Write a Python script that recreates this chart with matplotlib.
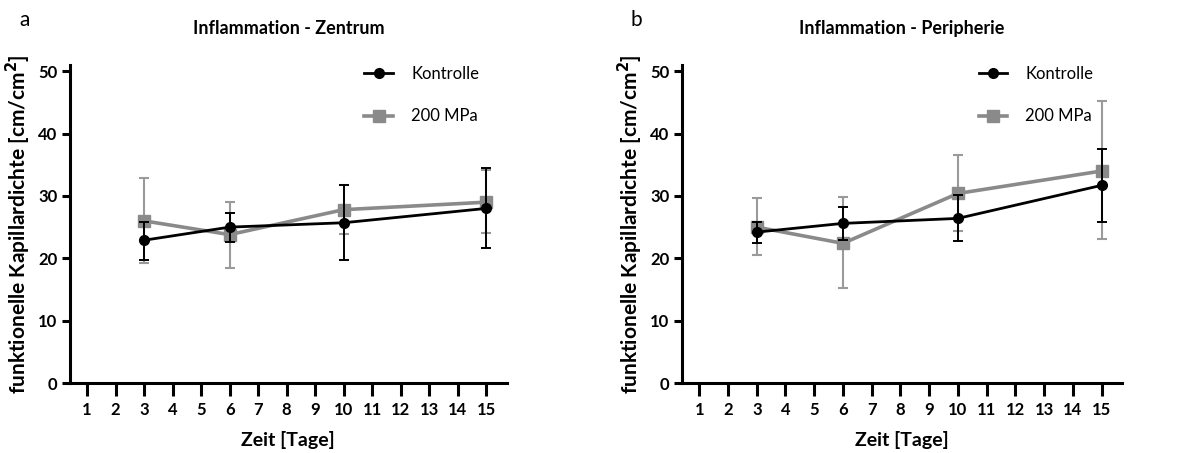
import numpy as np
import matplotlib.pyplot as plt
from matplotlib.lines import Line2D

plt.rcParams['font.family'] = ['Lato', 'DejaVu Sans']

# days
tage = [3, 6, 10, 15]

# Zentrum
zen_ko = [22.9, 25.0, 25.7, 28.0]
zen_ko_lo = [19.7, 22.6, 19.8, 21.6]
zen_ko_hi = [25.9, 27.3, 31.8, 34.5]
zen_mpa = [26.0, 23.8, 27.8, 29.0]
zen_mpa_lo = [19.2, 18.5, 23.9, 24.1]
zen_mpa_hi = [32.8, 29.1, 31.7, 34.1]

# Peripherie
per_ko = [24.2, 25.6, 26.4, 31.7]
per_ko_lo = [22.4, 23.0, 22.8, 25.9]
per_ko_hi = [25.8, 28.3, 30.2, 37.6]
per_mpa = [25.0, 22.4, 30.4, 34.0]
per_mpa_lo = [20.5, 15.2, 24.3, 23.1]
per_mpa_hi = [29.6, 29.8, 36.5, 45.2]

xticks = list(range(1, 16))
yticks = [0, 10, 20, 30, 40, 50]

BLACK = '#000000'
GREY = '#8a8a8a'
GREY_ERR = '#9a9a9a'


def err(vals, lo, hi):
    v = np.array(vals)
    return [v - np.array(lo), np.array(hi) - v]


fig = plt.figure(figsize=(11.93, 4.53), dpi=100)
ax1 = fig.add_axes([0.0587, 0.1545, 0.366, 0.702])
ax2 = fig.add_axes([0.5717, 0.1545, 0.369, 0.702])

panels = [
    (ax1, 'Inflammation - Zentrum', 'a', zen_ko, zen_ko_lo, zen_ko_hi, zen_mpa, zen_mpa_lo, zen_mpa_hi),
    (ax2, 'Inflammation - Peripherie', 'b', per_ko, per_ko_lo, per_ko_hi, per_mpa, per_mpa_lo, per_mpa_hi),
]

for ax, title, letter, ko, ko_lo, ko_hi, mpa, mpa_lo, mpa_hi in panels:
    ax.errorbar(tage, mpa, yerr=err(mpa, mpa_lo, mpa_hi), color=GREY, ecolor=GREY_ERR,
                lw=2.6, elinewidth=1.5, capsize=3.5, capthick=1.5, marker='s', ms=8,
                zorder=2)
    ax.errorbar(tage, ko, yerr=err(ko, ko_lo, ko_hi), color=BLACK, ecolor=BLACK,
                lw=2.0, elinewidth=1.4, capsize=3.5, capthick=1.4, marker='o', ms=7,
                zorder=3)

    ax.set_xlim(0.4, 15.72)
    ax.set_ylim(0, 51)
    ax.set_xticks(xticks)
    ax.set_yticks(yticks)
    for s in ['top', 'right']:
        ax.spines[s].set_visible(False)
    for s in ['left', 'bottom']:
        ax.spines[s].set_linewidth(2.2)
    ax.tick_params(axis='x', length=9, width=2.2, pad=5, labelsize=12)
    ax.tick_params(axis='y', length=6, width=2.2, pad=3, labelsize=12)
    for lab in ax.get_xticklabels() + ax.get_yticklabels():
        lab.set_fontweight('bold')

    ax.set_title(title, fontsize=13, fontweight='bold', pad=22)
    ax.set_xlabel('Zeit [Tage]', fontsize=14, fontweight='bold', labelpad=9)
    ax.set_ylabel('funktionelle Kapillardichte [cm/cm$^\\mathbf{2}$]', fontsize=15,
                  fontweight='bold', labelpad=4)
    ax.text(-0.103, 1.14, letter, transform=ax.transAxes, fontsize=15,
            ha='center', va='center')

    handles = [
        Line2D([], [], color=BLACK, lw=2.0, marker='o', ms=7),
        Line2D([], [], color=GREY, lw=2.6, marker='s', ms=8),
    ]
    ax.legend(handles, ['Kontrolle', '200 MPa'], loc='upper left', bbox_to_anchor=(0.64, 1.045),
              frameon=False, fontsize=12, handlelength=1.7, labelspacing=1.6,
              handletextpad=1.1)

fig.savefig('out.png', dpi=100)
